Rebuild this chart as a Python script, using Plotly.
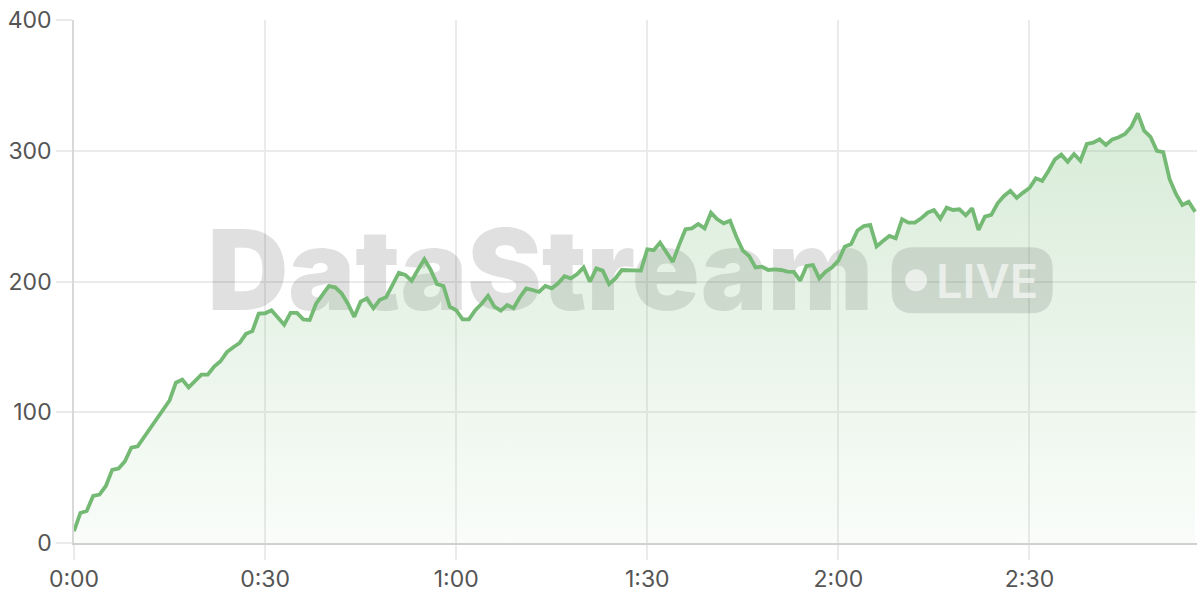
import plotly.graph_objects as go

# valores (un punto por segundo)
values = [
    9, 23, 24.5, 36, 37, 43.6, 56, 57, 62.5, 73,
    74, 81, 87, 94.6, 102, 109, 122.6, 125, 119, 123.7,
    128.7, 128.7, 135, 139, 146, 149.7, 153, 160, 162, 175.5,
    175.7, 178, 172, 167, 176, 176, 171, 170.5, 183, 190,
    196.5, 195.5, 191, 183, 173, 184.6, 187, 179.5, 186, 188,
    198, 206.7, 205, 200.6, 209, 217, 208.8, 198, 196.6, 180.7,
    178, 171, 171, 178, 183, 189, 180.7, 177.7, 182, 179.5,
    188, 194.8, 193.5, 192, 196.6, 194.8, 198.6, 204, 202.4, 205.7,
    210.8, 199.8, 210, 208.3, 198, 202.4, 208.8, 208.8, 208.8, 208.3,
    224.6, 224, 229.7, 222.8, 215, 228, 240, 240.6, 244, 240.6,
    252.6, 247.6, 244.5, 246.5, 234, 223.6, 219.5, 210.8, 211.3, 208.8,
    209.3, 208.8, 207.5, 207.3, 200.6, 211.9, 212.6, 202.4, 207.5, 210.8,
    216, 226.6, 228.7, 239, 242.4, 243.3, 226.8, 231, 234.8, 233,
    247.6, 245, 245, 248.3, 252.6, 254.7, 248, 256.5, 254.7, 255.2,
    250.6, 256, 239.4, 249.6, 250.9, 259.8, 265.4, 269.4, 264, 268,
    271.5, 278.9, 277, 284.7, 293.4, 297, 291.6, 297.5, 292.4, 305.2,
    306.2, 308.7, 304.4, 308.7, 310.3, 312.8, 318.4, 328.6, 315.3, 310.7,
    300, 299, 278.2, 267, 258.5, 261, 253.4,
]
seconds = list(range(len(values)))

tick_vals = [0, 30, 60, 90, 120, 150]
tick_text = ["0:00", "0:30", "1:00", "1:30", "2:00", "2:30"]
y_ticks = [0, 100, 200, 300, 400]

green = "#74b974"
grid = "#ebebeb"

fig = go.Figure()

# marca de agua (debajo del area)
fig.add_trace(go.Scatter(
    x=[73.2], y=[200], mode="text", text=["DataStream"],
    textfont=dict(family="Inter", size=112, color="rgba(0,0,0,0.12)", weight=900),
    hoverinfo="skip", showlegend=False,
))

# area + linea
fig.add_trace(go.Scatter(
    x=seconds, y=values, mode="lines",
    line=dict(color=green, width=3.8),
    fill="tozeroy",
    fillgradient=dict(
        type="vertical", start=0, stop=400,
        colorscale=[[0, "rgba(115,185,115,0.04)"], [1, "rgba(115,185,115,0.33)"]],
    ),
    hovertemplate="%{y}<extra></extra>",
    showlegend=False,
))

# pastilla "LIVE" con esquinas redondeadas
w, h, r = 161, 66, 22
hw, hh = w / 2, h / 2
pill = (
    f"M{-hw + r},{-hh} L{hw - r},{-hh} Q{hw},{-hh} {hw},{-hh + r} "
    f"L{hw},{hh - r} Q{hw},{hh} {hw - r},{hh} L{-hw + r},{hh} "
    f"Q{-hw},{hh} {-hw},{hh - r} L{-hw},{-hh + r} Q{-hw},{-hh} {-hw + r},{-hh} Z"
)
fig.add_shape(
    type="path", path=pill, xref="x", yref="y",
    xsizemode="pixel", ysizemode="pixel", xanchor=141, yanchor=201,
    fillcolor="rgba(0,0,0,0.11)", line=dict(width=0), layer="above",
)
fig.add_shape(
    type="circle", xref="x", yref="y",
    xsizemode="pixel", ysizemode="pixel", xanchor=132.2, yanchor=201,
    x0=-11, x1=11, y0=-11, y1=11,
    fillcolor="rgba(255,255,255,0.6)", line=dict(width=0), layer="above",
)
fig.add_annotation(
    x=143.3, y=201, text="LIVE", showarrow=False,
    font=dict(family="Inter", size=47, color="rgba(255,255,255,0.6)", weight=600),
)

fig.update_layout(
    width=1200, height=600,
    margin=dict(l=74, r=3, t=20, b=57),
    paper_bgcolor="white", plot_bgcolor="white",
    font=dict(family="Inter", color="#555555", size=23),
    xaxis=dict(
        range=[0, 176.3], tickvals=tick_vals, ticktext=tick_text,
        showgrid=True, gridcolor=grid, gridwidth=1.5,
        showline=True, linecolor="#d0d0d0", linewidth=1.5,
        ticks="outside", ticklen=15, tickcolor=grid, tickwidth=1.5,
        zeroline=False,
    ),
    yaxis=dict(
        range=[0, 400], tickvals=y_ticks,
        showgrid=True, gridcolor=grid, gridwidth=1.5,
        showline=True, linecolor="#d8d8d8", linewidth=1.5,
        ticks="outside", ticklen=16, tickcolor=grid, tickwidth=1.5,
        zeroline=False,
    ),
)

fig.write_html(
    "out.html",
    config={"displayModeBar": False},
    post_script="document.body.style.margin='0';",
)
